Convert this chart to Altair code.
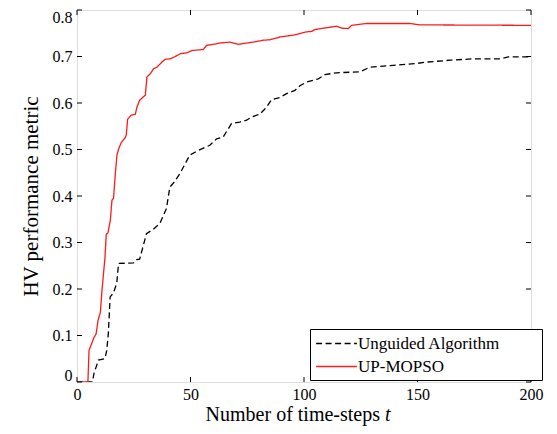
import altair as alt
import pandas as pd

# ---- data ----
up_steps = [0, 4.8, 5.3, 7.5, 8.4, 9.3, 10.3, 11, 12.3, 12.9, 13.6, 14.7, 15.4, 16.1, 16.9,
            17.6, 18.4, 19.5, 21.3, 21.7, 22.3, 23.9, 25.7, 26.4, 27.6, 29.4, 30.1, 30.8,
            32.3, 33.8, 35.2, 37.4, 38.9, 41.1, 43.3, 45.5, 48.5, 50.7, 55.6, 57.1, 60, 63,
            67.4, 68.9, 71.1, 73.3, 77.7, 82.1, 85, 89.4, 95.3, 101.2, 103.4, 104.8, 110,
            114.4, 116.6, 119.5, 121, 127.6, 146.7, 151.1, 200]
up_hv = [0, 0, 0.068, 0.096, 0.103, 0.133, 0.150, 0.197, 0.266, 0.318, 0.320, 0.348, 0.391,
         0.395, 0.449, 0.488, 0.502, 0.515, 0.526, 0.531, 0.565, 0.574, 0.576, 0.591, 0.606,
         0.614, 0.617, 0.656, 0.663, 0.674, 0.677, 0.688, 0.694, 0.695, 0.700, 0.706, 0.708,
         0.713, 0.715, 0.724, 0.726, 0.729, 0.731, 0.729, 0.726, 0.728, 0.731, 0.735, 0.736,
         0.742, 0.746, 0.753, 0.754, 0.758, 0.762, 0.765, 0.761, 0.760, 0.767, 0.771, 0.771,
         0.768, 0.767]

ug_steps = [0, 6.8, 7.5, 8.4, 9.4, 12.3, 13.1, 13.8, 14.6, 16, 17.5, 18.3, 24.9, 26.3, 27.6,
            30.6, 33.5, 36.5, 39.4, 40.9, 42.8, 45.3, 49.7, 53.4, 58.5, 61.5, 64.4, 68.1,
            71.7, 74.7, 76.9, 80.6, 83.5, 85.7, 89.4, 92.3, 96, 98.2, 101.1, 106.3, 109.2,
            114.4, 124.6, 129, 139.4, 149.6, 154, 164.3, 174.6, 186.4, 190, 200]
ug_hv = [0, 0, 0.019, 0.032, 0.047, 0.050, 0.068, 0.104, 0.183, 0.191, 0.212, 0.255, 0.256,
         0.263, 0.264, 0.319, 0.328, 0.341, 0.373, 0.419, 0.430, 0.448, 0.488, 0.498, 0.509,
         0.523, 0.527, 0.556, 0.559, 0.563, 0.570, 0.576, 0.591, 0.607, 0.612, 0.620, 0.627,
         0.637, 0.645, 0.652, 0.661, 0.665, 0.667, 0.677, 0.681, 0.685, 0.688, 0.692, 0.695,
         0.695, 0.699, 0.699]

series_names = ["Unguided Algorithm", "UP-MOPSO"]
x_ticks = [0, 50, 100, 150, 200]
y_ticks = [0, 0.1, 0.2, 0.3, 0.4, 0.5, 0.6, 0.7, 0.8]
x_title_main = "Number of time-steps"
x_title_var = "t"
y_title = "HV performance metric"

FONT = "Liberation Serif"
W, H = 454, 372
BLANK = "\u2800"

df = pd.concat([
    pd.DataFrame({"series": series_names[0], "step": ug_steps, "hv": ug_hv, "o": range(len(ug_steps))}),
    pd.DataFrame({"series": series_names[1], "step": up_steps, "hv": up_hv, "o": range(len(up_steps))}),
])

xs = alt.Scale(domain=[0, 200], nice=False)
ys = alt.Scale(domain=[0, 0.8], nice=False)

lines = alt.Chart(df).mark_line(strokeWidth=1.3, clip=True).encode(
    x=alt.X("step:Q", scale=xs,
            axis=alt.Axis(values=x_ticks, ticks=False, domain=False, grid=False, title=None,
                          labelFlush=False,
                          labelFont=FONT, labelFontSize=16, labelColor="black", labelPadding=4)),
    y=alt.Y("hv:Q", scale=ys,
            axis=alt.Axis(values=y_ticks, ticks=False, domain=False, grid=False, title=y_title,
                          labelExpr="datum.value == 0 ? '0' : format(datum.value, '.1f')",
                          labelFont=FONT, labelFontSize=16, labelColor="black", labelPadding=5,
                          labelFlush=True, labelFlushOffset=1,
                          titleFont=FONT, titleFontSize=21, titleFontWeight="normal",
                          titleColor="black", titlePadding=11)),
    color=alt.Color("series:N", scale=alt.Scale(domain=series_names, range=["black", "#ff1a1a"]),
                    legend=alt.Legend(orient="none", legendX=233, legendY=319, title=None,
                                      symbolType="M-2.4,0H2.4", symbolSize=289, symbolStrokeWidth=1.3,
                                      symbolOffset=12, labelOffset=12,
                                      labelFont=FONT, labelFontSize=17, labelColor="black",
                                      labelLimit=400, rowPadding=5, padding=5,
                                      strokeColor="black", fillColor="white",
                                      labelExpr="datum.label + '" + BLANK * 3 + "'")),
    strokeDash=alt.StrokeDash("series:N", scale=alt.Scale(domain=series_names, range=[[6, 3.5], [1, 0]]),
                              legend=None),
    order="o:Q",
)

xt = pd.DataFrame({"v": x_ticks})
yt = pd.DataFrame({"v": y_ticks})
tick_style = dict(color="black", strokeWidth=1)
bottom_ticks = alt.Chart(xt).mark_rule(**tick_style).encode(
    x=alt.X("v:Q", scale=xs, axis=None), y=alt.value(H), y2=alt.value(H - 5))
top_ticks = alt.Chart(xt).mark_rule(**tick_style).encode(
    x=alt.X("v:Q", scale=xs, axis=None), y=alt.value(0), y2=alt.value(5))
left_ticks = alt.Chart(yt).mark_rule(**tick_style).encode(
    y=alt.Y("v:Q", scale=ys, axis=None), x=alt.value(0), x2=alt.value(5))
right_ticks = alt.Chart(yt).mark_rule(**tick_style).encode(
    y=alt.Y("v:Q", scale=ys, axis=None), x=alt.value(W), x2=alt.value(W - 5))

title_main = alt.Chart(pd.DataFrame({"t": [x_title_main]})).mark_text(
    font=FONT, fontSize=20, align="right", baseline="alphabetic", color="black").encode(
    text="t:N", x=alt.value(303), y=alt.value(H + 39))
title_var = alt.Chart(pd.DataFrame({"t": [x_title_var]})).mark_text(
    font=FONT, fontSize=20, fontStyle="italic", align="left", baseline="alphabetic", color="black").encode(
    text="t:N", x=alt.value(308), y=alt.value(H + 39))

chart = alt.layer(lines, bottom_ticks, top_ticks, left_ticks, right_ticks, title_main, title_var).resolve_axis(
    x="independent", y="independent"
).properties(
    width=W, height=H,
    autosize=alt.AutoSizeParams(type="none"),
    padding={"left": 69, "top": 2, "right": 16, "bottom": 44},
).configure_view(stroke="black", strokeWidth=1.2).configure(background="white")

chart.save("out.html", embed_options={"renderer": "svg", "actions": False})
